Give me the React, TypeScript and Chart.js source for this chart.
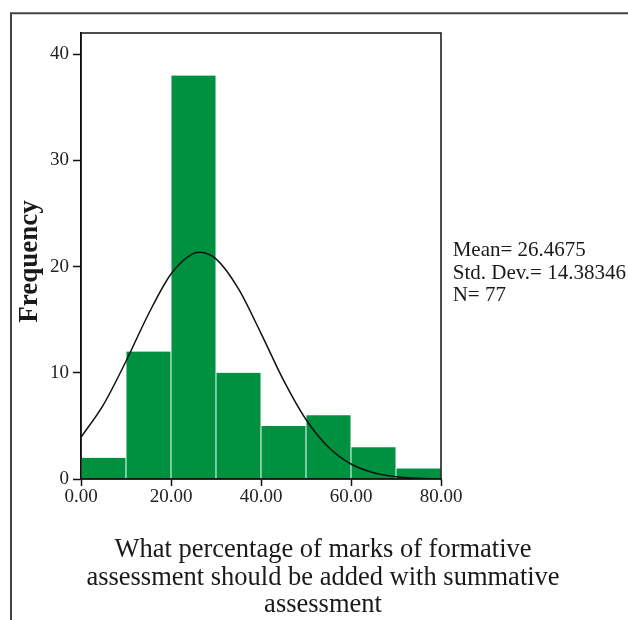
import React, { useEffect, useRef } from "react";
import { Chart, registerables } from "chart.js";

Chart.register(...registerables);

// Histogram bins (bin centres) and frequencies
const binCenters = [5, 15, 25, 35, 45, 55, 65, 75];
const frequencies = [2, 12, 38, 10, 5, 6, 3, 1];

// Fitted normal curve (x, expected frequency)
const curveX = [0, 5, 10, 15, 20, 25, 26.4675, 30, 35, 40, 45, 50, 55, 60, 65, 70, 75, 80];
const curveY = [3.93, 7.01, 11.09, 15.54, 19.31, 21.25, 21.36, 20.73, 17.91, 13.72, 9.31, 5.6, 2.99, 1.41, 0.59, 0.22, 0.07, 0.02];

const xTicks = [0, 20, 40, 60, 80];
const yTicks = [0, 10, 20, 30, 40];

const yTitle = "Frequency";
const xTitleLines = [
  "What percentage of marks of formative",
  "assessment should be added with summative",
  "assessment",
];
const statsLines = ["Mean= 26.4675", "Std. Dev.= 14.38346", "N= 77"];

const SERIF = '"Liberation Serif", "Times New Roman", serif';

export default function App() {
  const ref = useRef<HTMLCanvasElement | null>(null);

  useEffect(() => {
    const canvas = ref.current;
    if (!canvas) return;

    const decor = {
      id: "decor",
      afterDatasetsDraw(chart: any) {
        const { ctx, chartArea } = chart;
        ctx.save();
        ctx.strokeStyle = "#111";
        ctx.lineWidth = 1.5;
        ctx.strokeRect(chartArea.left, chartArea.top, chartArea.right - chartArea.left, chartArea.bottom - chartArea.top);
        ctx.restore();
      },
      afterDraw(chart: any) {
        const { ctx } = chart;
        ctx.save();
        // outer frame
        ctx.strokeStyle = "#444";
        ctx.lineWidth = 2;
        ctx.beginPath();
        ctx.moveTo(11, 620);
        ctx.lineTo(11, 13.3);
        ctx.lineTo(628, 13.3);
        ctx.stroke();

        ctx.fillStyle = "#1a1a1a";
        // y title
        ctx.save();
        ctx.font = `bold 27px ${SERIF}`;
        ctx.textAlign = "center";
        ctx.textBaseline = "alphabetic";
        ctx.translate(37, 261.5);
        ctx.rotate(-Math.PI / 2);
        ctx.fillText(yTitle, 0, 0);
        ctx.restore();

        // x title
        ctx.font = `26.5px ${SERIF}`;
        ctx.textAlign = "center";
        ctx.textBaseline = "alphabetic";
        const baselines = [557, 584.5, 612];
        xTitleLines.forEach((t, i) => ctx.fillText(t, 323, baselines[i]));

        // stats
        ctx.font = `21px ${SERIF}`;
        ctx.textAlign = "left";
        const sb = [256.2, 278.8, 301.2];
        statsLines.forEach((t, i) => ctx.fillText(t, 452.7, sb[i]));
        ctx.restore();
      },
    };

    const chart = new Chart(canvas, {
      type: "bar",
      data: {
        datasets: [
          {
            type: "line",
            data: curveX.map((x, i) => ({ x, y: curveY[i] })),
            borderColor: "#111",
            borderWidth: 1.5,
            pointRadius: 0,
            cubicInterpolationMode: "monotone",
            fill: false,
            order: 0,
          } as any,
          {
            type: "bar",
            data: binCenters.map((x, i) => ({ x, y: frequencies[i] })),
            backgroundColor: "#009140",
            borderColor: "#ffffff",
            borderWidth: { left: 0.8, right: 0.8, top: 0, bottom: 0 },
            borderSkipped: false,
            categoryPercentage: 1,
            barPercentage: 1,
            order: 1,
          } as any,
        ],
      },
      options: {
        responsive: false,
        animation: false,
        devicePixelRatio: 1,
        layout: { padding: { left: 0, top: 33, right: 187, bottom: 0 } },
        plugins: { legend: { display: false }, tooltip: { enabled: false } },
        scales: {
          x: {
            type: "linear",
            min: 0,
            max: 80,
            offset: false,
            afterFit: (s: any) => {
              s.height = 141;
            },
            afterBuildTicks: (s: any) => {
              s.ticks = xTicks.map((v) => ({ value: v }));
            },
            ticks: {
              callback: (v: any) => Number(v).toFixed(2),
              font: { family: SERIF, size: 19 },
              color: "#222",
              padding: 0,
              maxRotation: 0,
            },
            grid: {
              offset: false,
              drawOnChartArea: false,
              drawTicks: true,
              tickLength: 7,
              tickColor: "#111",
              tickWidth: 1.5,
            },
            border: { display: true, color: "#111", width: 1.5 },
          },
          y: {
            type: "linear",
            min: 0,
            max: 42,
            afterFit: (s: any) => {
              s.width = 81;
            },
            afterBuildTicks: (s: any) => {
              s.ticks = yTicks.map((v) => ({ value: v }));
            },
            ticks: {
              font: { family: SERIF, size: 19 },
              color: "#222",
              padding: 4,
            },
            grid: {
              drawOnChartArea: false,
              drawTicks: true,
              tickLength: 8,
              tickColor: "#111",
              tickWidth: 1.5,
            },
            border: { display: true, color: "#111", width: 1.5 },
          },
        },
      },
      plugins: [decor],
    } as any);

    return () => chart.destroy();
  }, []);

  return (
    <canvas
      ref={ref}
      width={628}
      height={620}
      style={{ position: "fixed", left: 0, top: 0, width: 628, height: 620, background: "#fff" }}
    />
  );
}
